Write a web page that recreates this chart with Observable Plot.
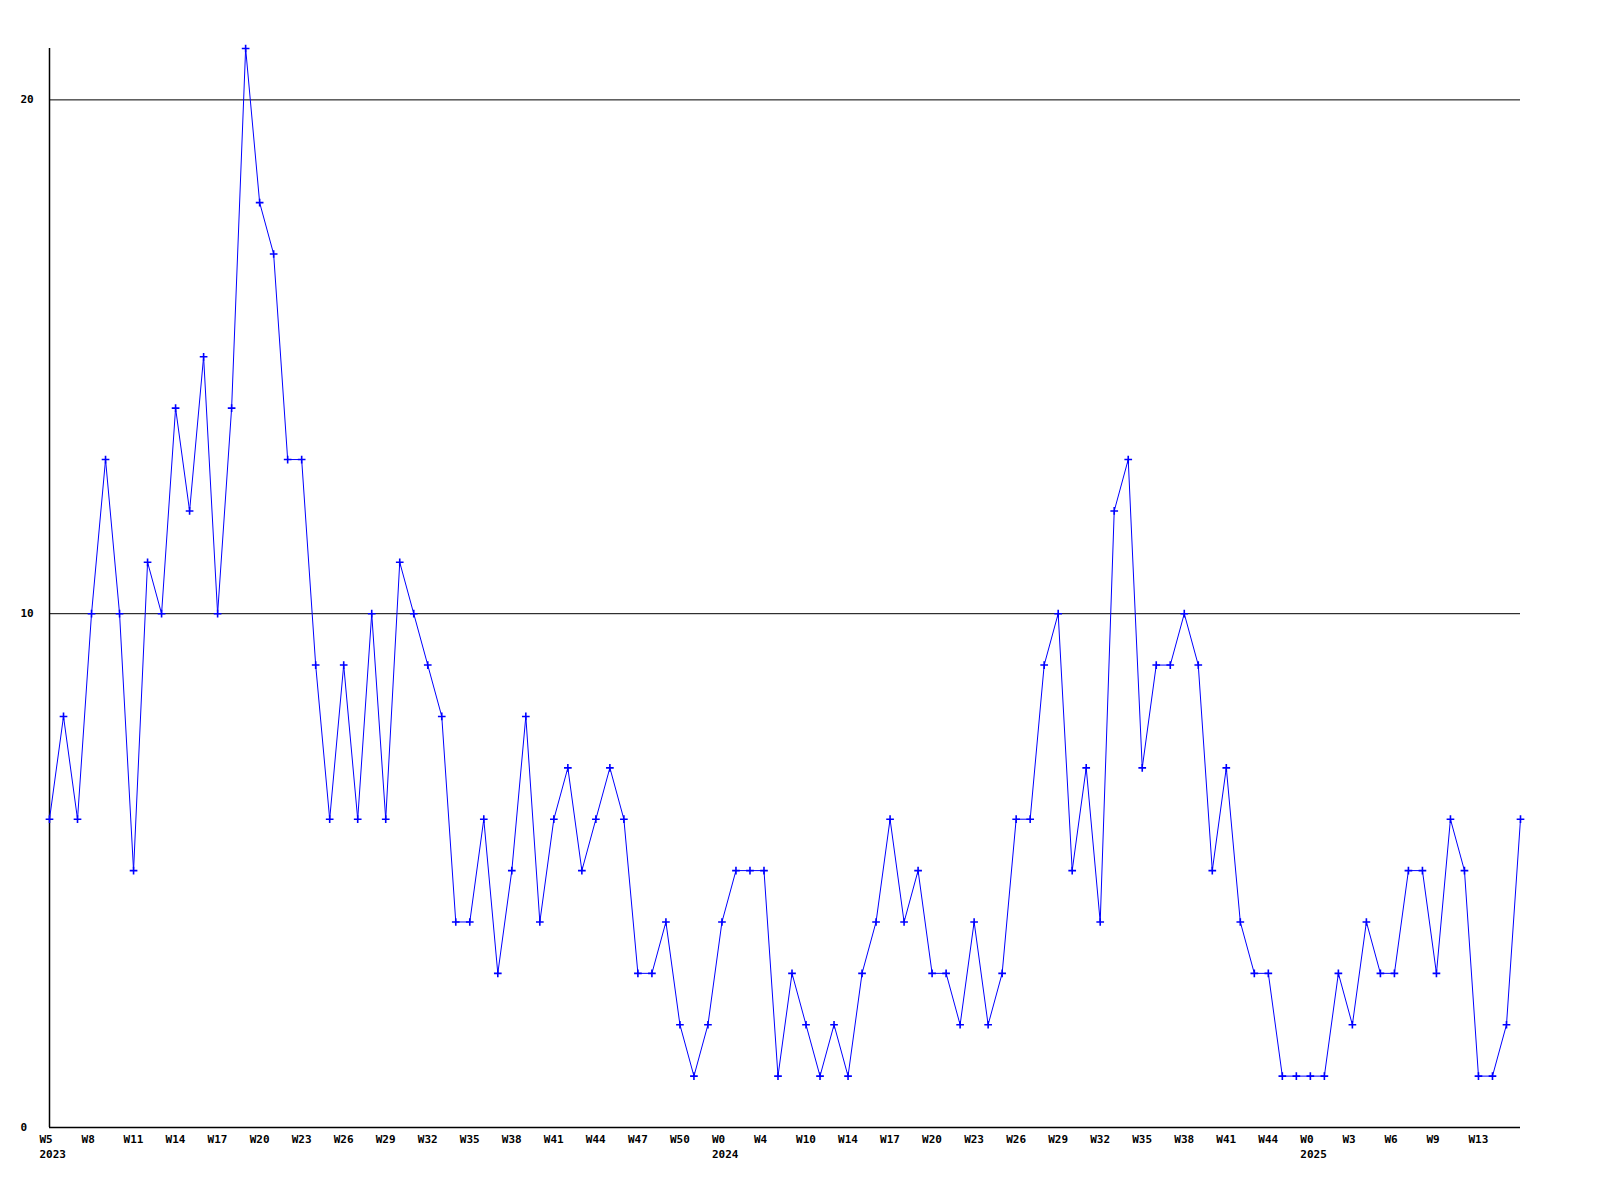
<!DOCTYPE html>
<html>
<head>
<meta charset="utf-8">
<script src="https://cdn.jsdelivr.net/npm/d3@7"></script>
<script src="https://cdn.jsdelivr.net/npm/@observablehq/plot@0.6"></script>
<style>
  html, body { margin: 0; padding: 0; background: #fff; overflow: hidden; }
  #chart svg { display: block; max-width: none !important; }
</style>
</head>
<body>
<div id="chart"></div>
<script>
const values = [
  6, 8, 6, 10, 13, 10, 5, 11, 10, 14, 12, 15, 10, 14, 21, 18, 17, 13, 13, 9,
  6, 9, 6, 10, 6, 11, 10, 9, 8, 4, 4, 6, 3, 5, 8, 4, 6, 7, 5, 6,
  7, 6, 3, 3, 4, 2, 1, 2, 4, 5, 5, 5, 1, 3, 2, 1, 2, 1, 3, 4,
  6, 4, 5, 3, 3, 2, 4, 2, 3, 6, 6, 9, 10, 5, 7, 4, 12, 13, 7, 9,
  9, 10, 9, 5, 7, 4, 3, 3, 1, 1, 1, 1, 3, 2, 4, 3, 3, 5, 5, 3,
  6, 5, 1, 1, 2, 6
];
const tickLabels = [
  "W5", "W8", "W11", "W14", "W17", "W20", "W23", "W26", "W29", "W32", "W35", "W38",
  "W41", "W44", "W47", "W50", "W0", "W4", "W10", "W14", "W17", "W20", "W23", "W26",
  "W29", "W32", "W35", "W38", "W41", "W44", "W0", "W3", "W6", "W9", "W13"
];
const tickStep = 3;
const yearLabels = ["2023", "2024", "2025"];
const yearTickIndex = [0, 16, 30];   // which tick label each year sits under
const yTicks = [0, 10, 20];
const gridValues = [10, 20];

const data = values.map((v, i) => ({i, v}));
const ticks = tickLabels.map((t, k) => ({i: k * tickStep, t}));
const years = yearLabels.map((y, k) => ({i: yearTickIndex[k] * tickStep, y}));

const font = "'DejaVu Sans Mono', 'Liberation Mono', monospace";

const chart = Plot.plot({
  width: 1600,
  height: 1200,
  marginLeft: 49,
  marginRight: 80,
  marginTop: 48,
  marginBottom: 73,
  style: {fontFamily: font, fontSize: "11px", fontWeight: "bold", background: "#fff", color: "#000", maxWidth: "none"},
  x: {domain: [0, values.length - 1], axis: null},
  y: {domain: [0, 21], axis: null},
  marks: [
    Plot.ruleY(gridValues, {stroke: "#000", strokeWidth: 1}),
    Plot.ruleY([0], {stroke: "#000", strokeWidth: 1.5}),
    Plot.ruleX([0], {stroke: "#000", strokeWidth: 1.5}),
    Plot.axisY({ticks: yTicks, tickSize: 0, tickPadding: 29, textAnchor: "start", label: null,
      fontFamily: font, fontSize: 11, fontWeight: "bold"}),
    Plot.line(data, {x: "i", y: "v", stroke: "#0000ff", strokeWidth: 1}),
    Plot.dot(data, {x: "i", y: "v", symbol: "plus", r: 2.6, fill: "none", stroke: "#0000ff", strokeWidth: 1.6}),
    Plot.text(ticks, {x: "i", y: () => 0, text: "t", textAnchor: "start", dx: -10, dy: 12,
      fontFamily: font, fontSize: 11, fontWeight: "bold", fill: "#000"}),
    Plot.text(years, {x: "i", y: () => 0, text: "y", textAnchor: "start", dx: -10, dy: 27,
      fontFamily: font, fontSize: 11, fontWeight: "bold", fill: "#000"})
  ]
});
document.getElementById("chart").appendChild(chart);
</script>
</body>
</html>
